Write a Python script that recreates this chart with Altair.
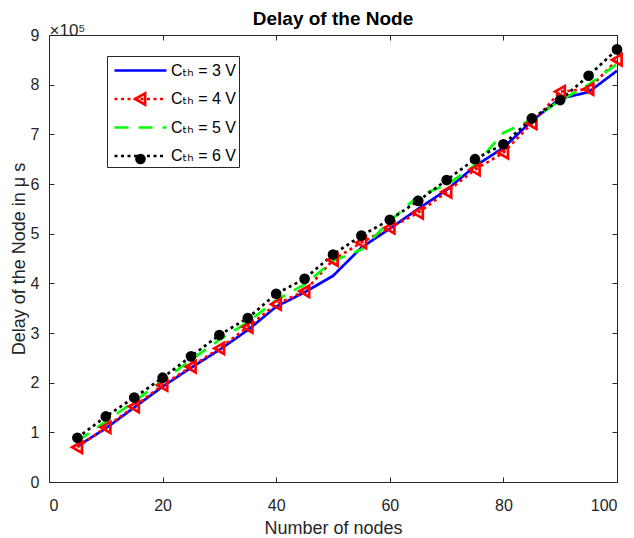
import altair as alt
import pandas as pd

# ---------------- data (delay values in units of 1e5 microseconds) ----------------
nodes = [5, 10, 15, 20, 25, 30, 35, 40, 45, 50, 55, 60, 65, 70, 75, 80, 85, 90, 95, 100]
delay_3v = [0.72, 1.08, 1.50, 1.92, 2.30, 2.66, 3.06, 3.53, 3.82, 4.15, 4.72, 5.10, 5.50, 5.88, 6.36, 6.73, 7.27, 7.72, 7.85, 8.28]
delay_4v = [0.70, 1.10, 1.52, 1.95, 2.32, 2.69, 3.12, 3.58, 3.84, 4.47, 4.82, 5.12, 5.42, 5.84, 6.29, 6.63, 7.22, 7.86, 7.91, 8.50]
delay_5v = [0.82, 1.22, 1.62, 2.04, 2.46, 2.86, 3.22, 3.66, 3.98, 4.45, 4.68, 5.25, 5.76, 5.98, 6.38, 7.03, 7.30, 7.68, 8.00, 8.42]
delay_6v = [0.89, 1.32, 1.70, 2.10, 2.53, 2.96, 3.30, 3.79, 4.09, 4.58, 4.96, 5.28, 5.66, 6.08, 6.50, 6.80, 7.32, 7.69, 8.18, 8.71]

series_names = ["Cₜₕ = 3 V", "Cₜₕ = 4 V", "Cₜₕ = 5 V", "Cₜₕ = 6 V"]
x_ticks = [0, 20, 40, 60, 80, 100]
y_ticks = [0, 1, 2, 3, 4, 5, 6, 7, 8, 9]

# ---------------- styles ----------------
colors = ["#0000ff", "#ff0000", "#00ff00", "#000000"]
dashes = [[1, 0], [3, 3.5], [14, 10], [3, 3.5]]
TRI = "M-0.52,0L0.46,-0.56L0.46,0.56Z"
CIRC = "M0.4,0A0.4,0.4,0,1,1,-0.4,0A0.4,0.4,0,1,1,0.4,0Z"
marker_shapes = ["M0,0", TRI, "M0,0", CIRC]
marker_fill = ["transparent", "transparent", "transparent", "#000000"]
LINE_SYMBOL = "M-2.6,0L2.6,0"

FONT = "Liberation Sans, Arial, DejaVu Sans, sans-serif"
AX = "#262626"
SW = 2.7

rows = []
for name, vals in zip(series_names, [delay_3v, delay_4v, delay_5v, delay_6v]):
    for xv, yv in zip(nodes, vals):
        rows.append({"nodes": xv, "delay": yv, "series": name, "series_m": name})
df = pd.DataFrame(rows)

x_scale = alt.Scale(domain=[0, 100], nice=False, zero=False)
y_scale = alt.Scale(domain=[0, 9], nice=False, zero=False)

legend_common = dict(
    orient="none", legendX=58, legendY=21, title=None,
    symbolSize=400, symbolStrokeWidth=SW, symbolOffset=19, labelOffset=19,
    labelFont=FONT, labelFontSize=16, labelColor="#000000",
    rowPadding=8.5, padding=3, labelLimit=300,
)

line_legend = alt.Legend(
    symbolType=LINE_SYMBOL, strokeColor=AX, fillColor="white", **legend_common
)
marker_legend = alt.Legend(labelExpr="''", **legend_common)

base = alt.Chart(df)

lines = base.mark_line(strokeWidth=SW, strokeCap="butt").encode(
    x=alt.X("nodes:Q", scale=x_scale,
            axis=alt.Axis(orient="bottom", values=x_ticks, title="Number of nodes",
                          offset=-5, tickSize=5, domain=False, grid=False,
                          labelPadding=15, titlePadding=6)),
    y=alt.Y("delay:Q", scale=y_scale,
            axis=alt.Axis(orient="left", values=y_ticks, title="Delay of the Node in μ s",
                          offset=-5, tickSize=5, domain=False, grid=False,
                          labelPadding=10, titlePadding=2)),
    color=alt.Color("series:N", scale=alt.Scale(domain=series_names, range=colors),
                    legend=line_legend),
    strokeDash=alt.StrokeDash("series:N", scale=alt.Scale(domain=series_names, range=dashes),
                              legend=line_legend),
)

markers = base.mark_point(size=400, strokeWidth=SW, opacity=1, filled=True).encode(
    x=alt.X("nodes:Q", scale=x_scale,
            axis=alt.Axis(orient="top", values=x_ticks, title="×10⁵", labels=False,
                          offset=-5, tickSize=5, domain=False, grid=False,
                          titleAnchor="start", titleAlign="left", titleBaseline="alphabetic",
                          titleX=0, titleY=-5, titleFontSize=17)),
    y=alt.Y("delay:Q", scale=y_scale,
            axis=alt.Axis(orient="right", values=y_ticks, title="", labels=False,
                          offset=-5, tickSize=5, domain=False, grid=False)),
    shape=alt.Shape("series_m:N", scale=alt.Scale(range=marker_shapes),
                    legend=marker_legend),
    stroke=alt.Stroke("series_m:N", scale=alt.Scale(range=colors),
                      legend=marker_legend),
    fill=alt.Fill("series_m:N", scale=alt.Scale(range=marker_fill),
                  legend=marker_legend),
)

chart = alt.layer(lines, markers).properties(
    width=568, height=447,
    title=alt.Title("Delay of the Node", font=FONT, fontSize=19, fontWeight="bold",
                    color="#000000", anchor="middle", offset=-8),
    padding={"left": 10, "top": 10, "right": 5, "bottom": 5},
).configure_view(
    stroke=AX, strokeWidth=1
).configure_axis(
    labelFont=FONT, labelFontSize=16, labelColor=AX,
    titleFont=FONT, titleFontSize=18, titleColor=AX, titleFontWeight="normal",
    tickColor=AX, tickWidth=1,
)

chart.save("out.html", embed_options={"renderer": "svg", "actions": False})
